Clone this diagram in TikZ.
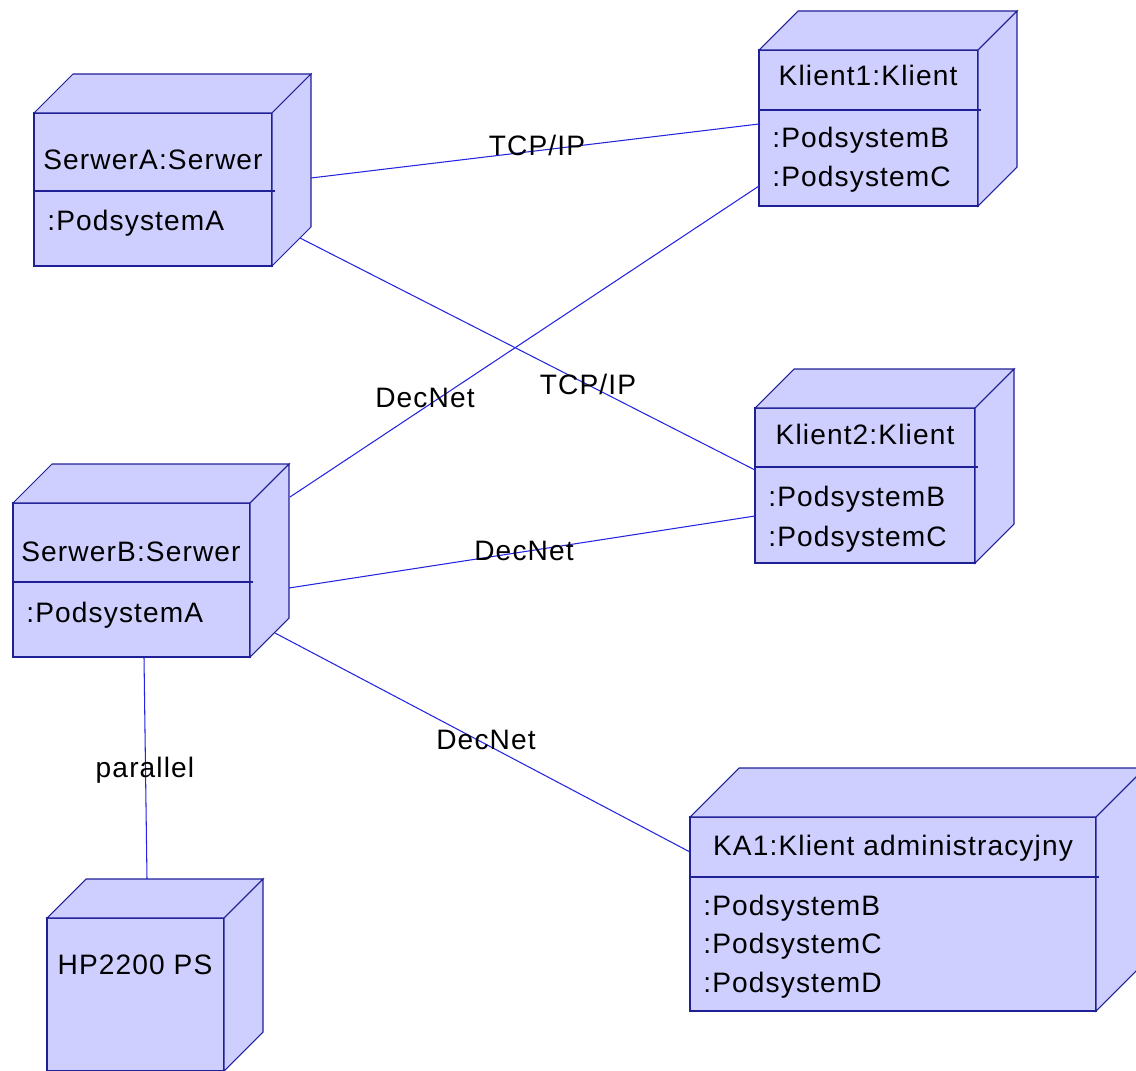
\documentclass[tikz,border=0pt]{standalone}
\usepackage{fontspec}
\setmainfont{Liberation Sans}[LetterSpace=4]
\usepackage{xcolor}
\usepackage{tikz}
\usetikzlibrary{positioning,calc}

\definecolor{nodefill}{RGB}{206,206,255}
\definecolor{nodeedge}{RGB}{32,32,150}
\definecolor{linkblue}{RGB}{36,36,225}

% 3D deployment node: front face named #2, north west corner at (#3,#4), size #5 x #6, depth #1
\newcommand{\devbox}[6][39]{%
  \node[devfront, minimum width=#5*0.02cm, minimum height=#6*0.02cm] (#2) at (#3,#4) {};
  \filldraw[devside] (#2.north west) -- ++(#1,-#1) -- ($(#2.north east)+(#1,-#1)$) -- (#2.north east) -- cycle;
  \filldraw[devside] (#2.north east) -- ($(#2.north east)+(#1,-#1)$) -- ($(#2.south east)+(#1,-#1)$) -- (#2.south east) -- cycle;
}

\begin{document}
\begin{tikzpicture}[
  x=0.02cm, y=-0.02cm,
  font=\fontsize{16}{19}\selectfont,
  devfront/.style={rectangle, anchor=north west, draw=nodeedge, fill=nodefill, line width=0.6pt, inner sep=0pt, outer sep=0pt},
  devside/.style={draw=nodeedge, fill=nodefill, line width=0.6pt, line join=miter},
  sepline/.style={draw=nodeedge, line width=0.6pt},
  link/.style={draw=linkblue, line width=0.6pt},
  title/.style={anchor=base, inner sep=0pt},
  sub/.style={anchor=base west, inner sep=0pt},
  linklabel/.style={anchor=base, inner sep=0pt},
]
\useasboundingbox (0,0) rectangle (1136,1071);

% nodes
\devbox{serwerA}{34}{113}{238}{153}
\devbox{klient1}{759}{50}{219}{156}
\devbox{klient2}{755}{408}{220}{155}
\devbox{serwerB}{13}{503}{237}{154}
\devbox{hp}{47}{918}{177}{153}
\devbox[49]{ka1}{690}{817}{406}{194}

% compartment separators
\draw[sepline] ($(serwerA.north west)+(0,78)$) -- ++(241,0);
\draw[sepline] ($(klient1.north west)+(0,60)$) -- ++(222,0);
\draw[sepline] ($(klient2.north west)+(0,59)$) -- ++(223,0);
\draw[sepline] ($(serwerB.north west)+(0,79)$) -- ++(240,0);
\draw[sepline] ($(ka1.north west)+(0,60)$) -- ++(409,0);

% names and subsystems
\node[title] (serwerA-name) at (153,170) {SerwerA:Serwer};
\node[sub] (serwerA-s) at (47,231) {:PodsystemA};

\node[title] (klient1-name) at (868,86) {Klient1:Klient};
\foreach \s [count=\k from 0] in {B,C} {
  \node[sub] (klient1-s\k) at (772,148+\k*39) {:Podsystem\s};
}

\node[title] (klient2-name) at (865,444) {Klient2:Klient};
\foreach \s [count=\k from 0] in {B,C} {
  \node[sub] (klient2-s\k) at (768,506+\k*40) {:Podsystem\s};
}

\node[title] (serwerB-name) at (131,561) {SerwerB:Serwer};
\node[sub] (serwerB-s) at (26,622) {:PodsystemA};

\node[title] (hp-name) at (135,974) {HP2200 PS};

\node[title] (ka1-name) at (893,855) {KA1:Klient administracyjny};
\foreach \s [count=\k from 0] in {B,C,D} {
  \node[sub] (ka1-s\k) at (703,915+\k*38.5) {:Podsystem\s};
}

% communication links
\draw[link] ($(serwerA.north east)+(39,65)$) -- ($(klient1.north west)+(0,74)$);
\draw[link] ($(serwerA.north east)+(28,125)$) -- ($(klient2.north west)+(0,62)$);
\draw[link] ($(klient1.north west)+(0,136)$) -- ($(serwerB.north east)+(40,-6)$);
\draw[link] ($(serwerB.north east)+(39,85)$) -- ($(klient2.north west)+(0,108)$);
\draw[link] ($(serwerB.north east)+(25,130)$) -- ($(ka1.north west)+(0,35)$);
\draw[link] ($(serwerB.south west)+(131,0)$) -- ($(hp.north west)+(100,-39)$);

% link labels
\node[linklabel] (l-tcp1) at (537,156) {TCP/IP};
\node[linklabel] (l-tcp2) at (588,394) {TCP/IP};
\node[linklabel] (l-dec1) at (425,407) {DecNet};
\node[linklabel] (l-dec2) at (524,560) {DecNet};
\node[linklabel] (l-dec3) at (486,749) {DecNet};
\node[linklabel] (l-par) at (145,777) {parallel};
\end{tikzpicture}
\end{document}
